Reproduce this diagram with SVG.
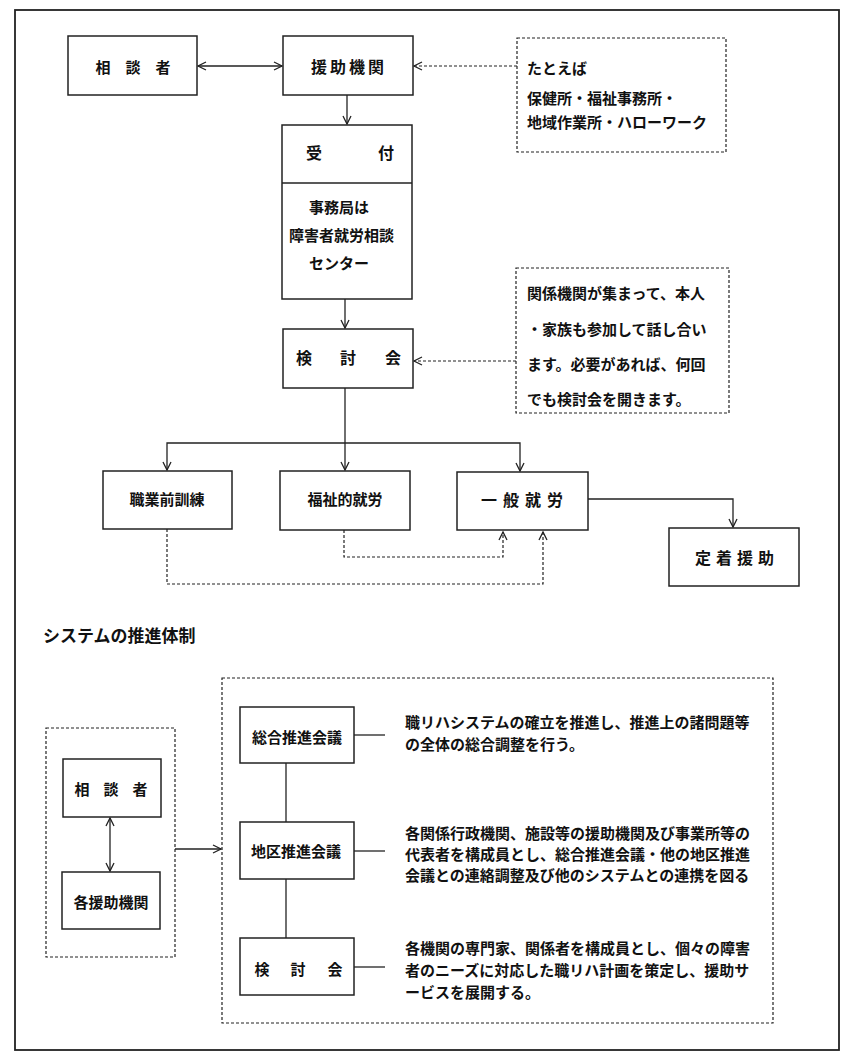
<svg xmlns="http://www.w3.org/2000/svg" width="856" height="1064" viewBox="0 0 856 1064">
<defs>
<style>
.box{fill:#fff;stroke:#222;stroke-width:1.5}
.dbox{fill:none;stroke:#222;stroke-width:1.2;stroke-dasharray:3 2}
.ln{fill:none;stroke:#222;stroke-width:1.3}
.dl{fill:none;stroke:#222;stroke-width:1.2;stroke-dasharray:3 2}
text{font-family:"Noto Sans CJK JP","Noto Sans CJK SC",sans-serif;font-weight:700;fill:#111;dominant-baseline:central}
.t15{font-size:15px}
.t16{font-size:16px}
.mid{text-anchor:middle}
</style>
<marker id="ah" markerUnits="userSpaceOnUse" markerWidth="12" markerHeight="12" refX="9" refY="5" orient="auto-start-reverse" viewBox="0 0 12 10">
<path d="M1,1 L9,5 L1,9" fill="none" stroke="#222" stroke-width="1.3"/>
</marker>
</defs>
<rect x="0" y="0" width="856" height="1064" fill="#fff"/>
<rect id="frame" x="15" y="10" width="824" height="1040" fill="none" stroke="#222" stroke-width="1.8"/>

<g id="connectors">
<line class="ln" x1="198" y1="66" x2="282" y2="66" marker-start="url(#ah)" marker-end="url(#ah)"/>
<line class="dl" x1="517" y1="66" x2="414" y2="66" marker-end="url(#ah)"/>
<line class="ln" x1="347" y1="95" x2="347" y2="124" marker-end="url(#ah)"/>
<line class="ln" x1="345" y1="299" x2="345" y2="328" marker-end="url(#ah)"/>
<line class="dl" x1="516" y1="361" x2="414" y2="361" marker-end="url(#ah)"/>
<line class="ln" x1="345" y1="388" x2="345" y2="470" marker-end="url(#ah)"/>
<polyline class="ln" points="167,470 167,443 520,443 520,471" marker-start="url(#ah)" marker-end="url(#ah)"/>
<polyline class="ln" points="588,499 733,499 733,527" marker-end="url(#ah)"/>
<polyline class="dl" points="344,530 344,557 503,557 503,532" marker-end="url(#ah)"/>
<polyline class="dl" points="167,529 167,584 543,584 543,532" marker-end="url(#ah)"/>
<line class="ln" x1="110" y1="818" x2="110" y2="871" marker-start="url(#ah)" marker-end="url(#ah)"/>
<line class="ln" x1="175" y1="849" x2="221" y2="849" marker-end="url(#ah)"/>
<line class="ln" x1="286" y1="763" x2="286" y2="822"/>
<line class="ln" x1="286" y1="879" x2="286" y2="938"/>
<line class="ln" x1="354" y1="735" x2="385" y2="735"/>
<line class="ln" x1="354" y1="851" x2="385" y2="851"/>
<line class="ln" x1="354" y1="967" x2="385" y2="967"/>
</g>

<g id="n-soudansha">
<rect class="box" x="68" y="36" width="129" height="59"/>
<text class="t15 mid" x="133" y="66">相　談　者</text>
</g>
<g id="n-enjo">
<rect class="box" x="283" y="36" width="130" height="59"/>
<text class="t16 mid" x="349" y="66" letter-spacing="3">援助機関</text>
</g>
<g id="n-tatoeba">
<rect class="dbox" x="517" y="38" width="209" height="114"/>
<text class="t15" x="527" y="67">たとえば</text>
<text class="t15" x="527" y="97">保健所・福祉事務所・</text>
<text class="t15" x="527" y="121">地域作業所・ハローワーク</text>
</g>
<g id="n-uketsuke">
<rect class="box" x="282" y="125" width="130" height="174"/>
<line class="ln" x1="282" y1="183" x2="412" y2="183"/>
<text class="t16 mid" x="314 386" y="152">受付</text>
<text class="t15" x="309" y="206">事務局は</text>
<text class="t15" x="289" y="234">障害者就労相談</text>
<text class="t15" x="309" y="262">センター</text>
</g>
<g id="n-kentoukai">
<rect class="box" x="283" y="329" width="130" height="59"/>
<text class="t16 mid" x="304 348 393" y="357">検討会</text>
</g>
<g id="n-kankei">
<rect class="dbox" x="516" y="268" width="213" height="145"/>
<text class="t15" x="527" y="292">関係機関が集まって、本人</text>
<text class="t15" x="527" y="328">・家族も参加して話し合い</text>
<text class="t15" x="527" y="363">ます。必要があれば、何回</text>
<text class="t15" x="527" y="398">でも検討会を開きます。</text>
</g>
<g id="n-shokugyouzen">
<rect class="box" x="103" y="471" width="129" height="58"/>
<text class="t15 mid" x="167" y="498">職業前訓練</text>
</g>
<g id="n-fukushiteki">
<rect class="box" x="280" y="471" width="130" height="59"/>
<text class="t15 mid" x="345" y="498">福祉的就労</text>
</g>
<g id="n-ippan">
<rect class="box" x="457" y="472" width="131" height="58"/>
<text class="t16 mid" x="489 511 533 555" y="499">一般就労</text>
</g>
<g id="n-teichaku">
<rect class="box" x="669" y="528" width="130" height="58"/>
<text class="t16 mid" x="703 724 745 766" y="557">定着援助</text>
</g>

<text id="title" x="43" y="634" style="font-size:17px">システムの推進体制</text>

<g id="n-leftgroup">
<rect class="dbox" x="46" y="728" width="129" height="229"/>
</g>
<g id="n-soudansha2">
<rect class="box" x="63" y="759" width="98" height="58"/>
<text class="t15 mid" x="82 111 140" y="788">相談者</text>
</g>
<g id="n-kakuenjo">
<rect class="box" x="62" y="872" width="98" height="57"/>
<text class="t15 mid" x="111" y="901">各援助機関</text>
</g>
<g id="n-rightgroup">
<rect class="dbox" x="222" y="678" width="551" height="345"/>
</g>
<g id="n-sougou">
<rect class="box" x="240" y="707" width="114" height="56"/>
<text class="t15 mid" x="297" y="736">総合推進会議</text>
<text class="t15" x="405" y="721">職リハシステムの確立を推進し、推進上の諸問題等</text>
<text class="t15" x="405" y="743">の全体の総合調整を行う。</text>
</g>
<g id="n-chiku">
<rect class="box" x="240" y="822" width="114" height="57"/>
<text class="t15 mid" x="296" y="850">地区推進会議</text>
<text class="t15" x="405" y="832">各関係行政機関、施設等の援助機関及び事業所等の</text>
<text class="t15" x="405" y="853">代表者を構成員とし、総合推進会議・他の地区推進</text>
<text class="t15" x="405" y="874">会議との連絡調整及び他のシステムとの連携を図る</text>
</g>
<g id="n-kentoukai2">
<rect class="box" x="240" y="938" width="114" height="57"/>
<text class="t15 mid" x="262 298 335" y="968">検討会</text>
<text class="t15" x="405" y="947">各機関の専門家、関係者を構成員とし、個々の障害</text>
<text class="t15" x="405" y="969">者のニーズに対応した職リハ計画を策定し、援助サ</text>
<text class="t15" x="405" y="991">ービスを展開する。</text>
</g>
</svg>
